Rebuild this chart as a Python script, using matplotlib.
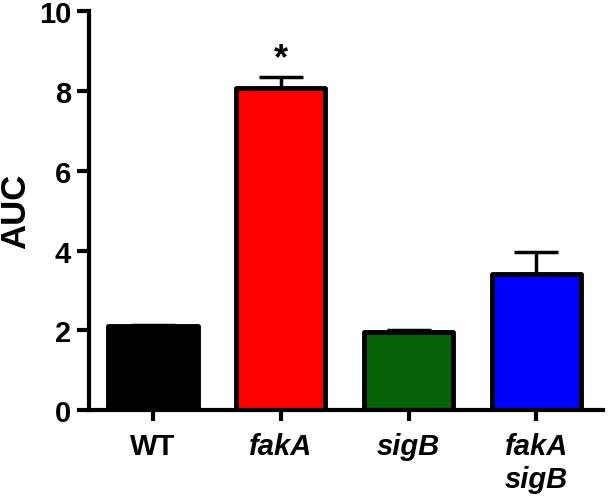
import matplotlib
matplotlib.use("Agg")
import matplotlib.pyplot as plt

categories = ["WT", "fakA", "sigB", "fakA\nsigB"]
values = [2.12, 8.07, 1.95, 3.41]
errors = [0.02, 0.27, 0.05, 0.55]
colors = ["#000000", "#ff0000", "#076307", "#0000ff"]
ylabel = "AUC"
yticks = [0, 2, 4, 6, 8, 10]
star_text = "*"

plt.rcParams['font.family'] = ['Liberation Sans', 'DejaVu Sans']
fig = plt.figure(figsize=(6.15, 5.02), dpi=100)
ax = fig.add_axes([0.145, 0.181, 0.835, 0.795])

x = list(range(len(categories)))
ax.errorbar(x, values, yerr=[[0]*len(values), errors], fmt='none', ecolor='black',
            elinewidth=2.5, capsize=16, capthick=2.5, zorder=1)
ax.bar(x, values, width=0.70, color=colors, edgecolor='black', linewidth=3.5,
       joinstyle='round', zorder=2)

ax.text(x[1], values[1] + errors[1] + 0.03, star_text, ha='center', va='bottom',
        fontsize=26, fontweight='bold')

ax.set_xlim(-0.5, 3.52)
ax.set_ylim(0, 10)
ax.set_yticks(yticks)
ax.set_xticks(x)
ax.set_xticklabels(categories, fontsize=21, fontweight='bold', linespacing=1.2)
for lbl in ax.get_xticklabels():
    if lbl.get_text() != "WT":
        lbl.set_style('italic')
ax.tick_params(axis='y', labelsize=21, width=3, length=9, pad=4)
ax.tick_params(axis='x', width=3, length=8, pad=8)
for lbl in ax.get_yticklabels():
    lbl.set_fontweight('bold')
ax.set_ylabel(ylabel, fontsize=25, fontweight='bold')
ax.yaxis.set_label_coords(-0.112, 0.5)
for s in ['top', 'right']:
    ax.spines[s].set_visible(False)
for s in ['left', 'bottom']:
    ax.spines[s].set_linewidth(3)

fig.savefig("out.png", dpi=100)
